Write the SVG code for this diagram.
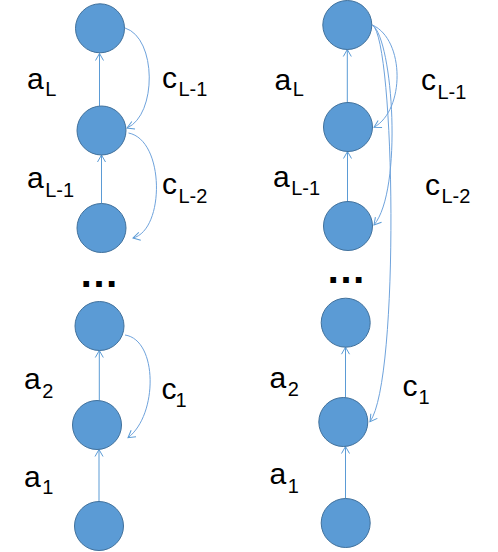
<svg xmlns="http://www.w3.org/2000/svg" width="498" height="552" viewBox="0 0 498 552">
<defs>
<marker id="ah" markerUnits="userSpaceOnUse" markerWidth="12" markerHeight="12" viewBox="-9 -6 12 12" refX="0" refY="0" orient="auto">
<path d="M-7,-4 L0,0 L-7,4" fill="none" stroke="#5B9BD5" stroke-width="1"/>
</marker>
</defs>
<style>
.node{fill:#5B9BD5;stroke:#41719C;stroke-width:1}
.edge{fill:none;stroke:#5B9BD5;stroke-width:1;marker-end:url(#ah)}
.curve{fill:none;stroke:#6FA3DC;stroke-width:1;marker-end:url(#ah)}
.lbl{font-family:"Liberation Sans",Arial,sans-serif;font-size:30px;fill:#000}
.sub{font-size:20px}
.dots{font-family:"Liberation Sans",Arial,sans-serif;font-size:40px;font-weight:bold;fill:#000;text-anchor:middle}
</style>
<g id="connectors">
<line class="edge" x1="99.5" y1="106" x2="99.5" y2="53.5"/>
<line class="edge" x1="101.5" y1="203.5" x2="101.5" y2="155"/>
<line class="edge" x1="99.3" y1="400.5" x2="99.3" y2="350.5"/>
<line class="edge" x1="99" y1="501.5" x2="99" y2="449.5"/>
<path class="curve" d="M125,28 C157,38 157,115 127,128"/>
<path class="curve" d="M128.5,133 C165,140 165,230 133,238"/>
<path class="curve" d="M125,335 C158,340 158,415 128,437.7"/>
<line class="edge" x1="347.3" y1="102.5" x2="347.3" y2="49.5"/>
<line class="edge" x1="347.5" y1="201.5" x2="347.5" y2="151.5"/>
<line class="edge" x1="345.5" y1="397.5" x2="345.5" y2="347.2"/>
<line class="edge" x1="345.5" y1="498.5" x2="345.5" y2="446.5"/>
<path class="curve" d="M372.5,25 C405,40 405,110 374,127.3"/>
<path class="curve" d="M372.5,25 C393,40 403,190 374,225"/>
<path class="curve" d="M372.5,25 C395,40 400,380 370,421.7"/>
</g>
<g id="nL1"><circle class="node" cx="100" cy="28.3" r="24.5"/></g>
<g id="nL2"><circle class="node" cx="101.5" cy="130.5" r="24.5"/></g>
<g id="nL3"><circle class="node" cx="101.5" cy="228" r="24.5"/></g>
<g id="nL4"><circle class="node" cx="99.5" cy="326" r="24.5"/></g>
<g id="nL5"><circle class="node" cx="97" cy="425" r="24.5"/></g>
<g id="nL6"><circle class="node" cx="99" cy="526" r="24.5"/></g>
<g id="nR1"><circle class="node" cx="347.3" cy="25" r="24.5"/></g>
<g id="nR2"><circle class="node" cx="348" cy="127" r="24.5"/></g>
<g id="nR3"><circle class="node" cx="348" cy="226" r="24.5"/></g>
<g id="nR4"><circle class="node" cx="345.7" cy="322.7" r="24.5"/></g>
<g id="nR5"><circle class="node" cx="343.3" cy="422" r="24.5"/></g>
<g id="nR6"><circle class="node" cx="345.7" cy="523" r="24.5"/></g>
<g id="labels">
<text class="lbl" x="27" y="89">a<tspan class="sub" dx="1.5" dy="7">L</tspan></text>
<text class="lbl" x="27" y="188">a<tspan class="sub" dx="1.5" dy="8.5">L-1</tspan></text>
<text class="lbl" x="162" y="88">c<tspan class="sub" dx="1.5" dy="8">L-1</tspan></text>
<text class="lbl" x="162" y="194">c<tspan class="sub" dx="1.5" dy="8.5">L-2</tspan></text>
<text class="lbl" x="24" y="389">a<tspan class="sub" dx="1.5" dy="8.5">2</tspan></text>
<text class="lbl" x="24" y="486.5">a<tspan class="sub" dx="1.5" dy="7.5">1</tspan></text>
<text class="lbl" x="161.5" y="399">c<tspan class="sub" dx="-1" dy="8">1</tspan></text>
<text class="dots" x="99" y="287">…</text>
<text class="lbl" x="274.5" y="89.5">a<tspan class="sub" dx="1.5" dy="6.5">L</tspan></text>
<text class="lbl" x="273" y="187">a<tspan class="sub" dx="1.5" dy="7.5">L-1</tspan></text>
<text class="lbl" x="421" y="90">c<tspan class="sub" dx="1.5" dy="9">L-1</tspan></text>
<text class="lbl" x="425" y="195">c<tspan class="sub" dx="1.5" dy="8">L-2</tspan></text>
<text class="lbl" x="269.5" y="388">a<tspan class="sub" dx="1.5" dy="7.5">2</tspan></text>
<text class="lbl" x="269.5" y="483.5">a<tspan class="sub" dx="1.5" dy="9">1</tspan></text>
<text class="lbl" x="402.5" y="395.5">c<tspan class="sub" dx="1" dy="8.5">1</tspan></text>
<text class="dots" x="346" y="283">…</text>
</g>
</svg>
